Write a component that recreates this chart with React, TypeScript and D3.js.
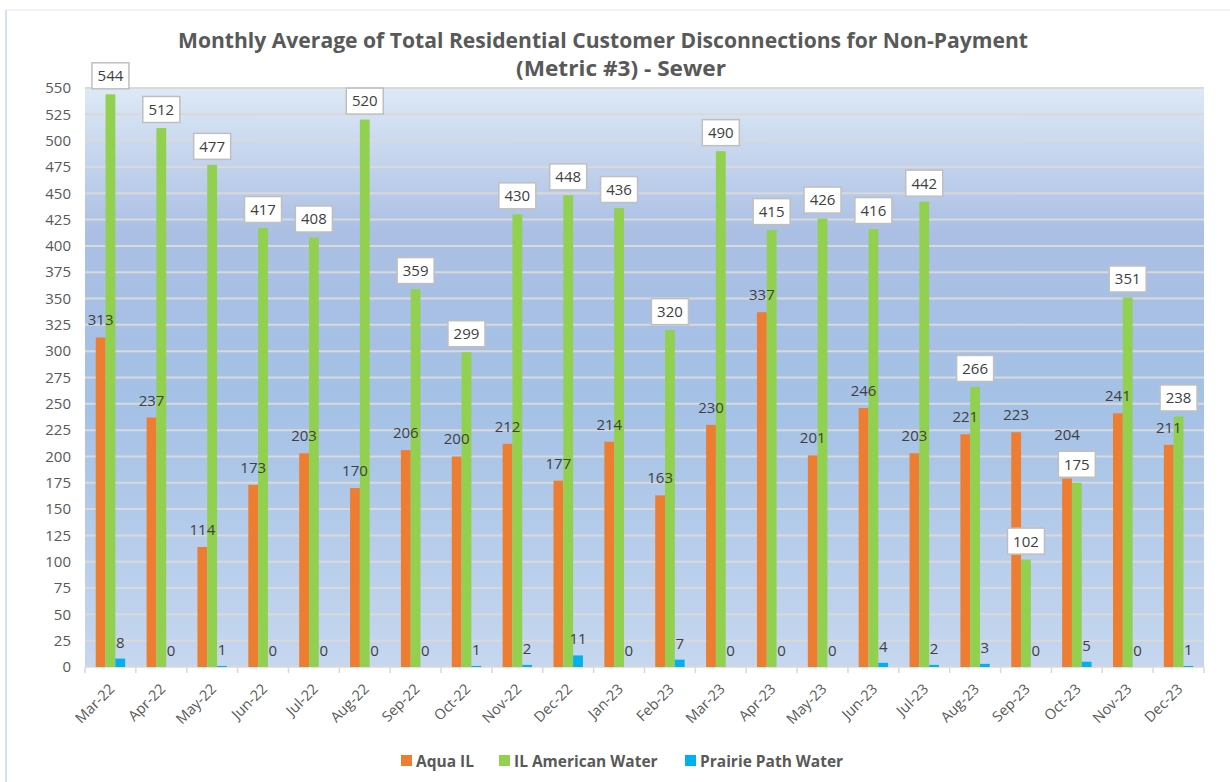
import * as d3 from "d3";

const MONTHS = [
  "Mar-22", "Apr-22", "May-22", "Jun-22", "Jul-22", "Aug-22", "Sep-22", "Oct-22",
  "Nov-22", "Dec-22", "Jan-23", "Feb-23", "Mar-23", "Apr-23", "May-23", "Jun-23",
  "Jul-23", "Aug-23", "Sep-23", "Oct-23", "Nov-23", "Dec-23",
];
const AQUA_IL = [313, 237, 114, 173, 203, 170, 206, 200, 212, 177, 214, 163, 230, 337, 201, 246, 203, 221, 223, 179, 241, 211];
// the Oct-23 label in the source reads 204 although the bar sits lower
const AQUA_LABEL_OVERRIDE: Record<string, number> = { "Oct-23": 204 };
const IL_AMERICAN = [544, 512, 477, 417, 408, 520, 359, 299, 430, 448, 436, 320, 490, 415, 426, 416, 442, 266, 102, 175, 351, 238];
const PRAIRIE_PATH = [8, 0, 1, 0, 0, 0, 0, 1, 2, 11, 0, 7, 0, 0, 0, 4, 2, 3, 0, 5, 0, 1];
const Y_TICKS = d3.range(0, 551, 25);

const SERIES = [
  { key: "aqua", label: "Aqua IL", color: "#ED7D31", values: AQUA_IL },
  { key: "ilaw", label: "IL American Water", color: "#92D050", values: IL_AMERICAN },
  { key: "ppw", label: "Prairie Path Water", color: "#00B0F0", values: PRAIRIE_PATH },
];

const FONT = "'Open Sans', 'Segoe UI', sans-serif";
const AXIS_COLOR = "#595959";
const LABEL_COLOR = "#404040";

export default function App() {
  const W = 1230;
  const H = 782;
  const plot = { left: 85, right: 1204, top: 88, bottom: 667 };

  const x = d3.scaleBand<string>().domain(MONTHS).range([plot.left, plot.right]);
  const groupW = 29.4;
  const x1 = d3.scaleBand<string>().domain(SERIES.map((s) => s.key)).range([0, groupW]);
  const y = d3.scaleLinear().domain([0, 550]).range([plot.bottom, plot.top]);
  const bw = x.bandwidth();
  const off = (m: string) => (x(m) as number) + (bw - groupW) / 2;

  const legendItems = [
    { s: SERIES[0], x: 401 },
    { s: SERIES[1], x: 499 },
    { s: SERIES[2], x: 685 },
  ];

  return (
    <svg
      width={W}
      height={H}
      style={{ position: "absolute", left: 0, top: 0, background: "#fff" }}
      fontFamily={FONT}
    >
      <defs>
        <linearGradient id="plotBg" x1="0" y1="0" x2="0" y2="1">
          <stop offset="0%" stopColor="#dde9f6" />
          <stop offset="25%" stopColor="#abbfe4" />
          <stop offset="55%" stopColor="#a4c1e6" />
          <stop offset="100%" stopColor="#c6d7ef" />
        </linearGradient>
      </defs>

      {/* chart frame */}
      <line x1={6} x2={W} y1={10} y2={10} stroke="#eef1f7" strokeWidth={1.5} />
      <line x1={6} x2={6} y1={10} y2={H} stroke="#c8d6ee" strokeWidth={1.5} />

      {/* title */}
      <text x={603} y={48} textAnchor="middle" fontSize={21} fontWeight={700} fill={AXIS_COLOR}
        textLength={850} lengthAdjust="spacingAndGlyphs">
        Monthly Average of Total  Residential Customer Disconnections for Non-Payment
      </text>
      <text x={621} y={76} textAnchor="middle" fontSize={21} fontWeight={700} fill={AXIS_COLOR}
        textLength={210} lengthAdjust="spacingAndGlyphs">
        (Metric #3) - Sewer
      </text>

      {/* plot area */}
      <rect x={plot.left} y={plot.top} width={plot.right - plot.left} height={plot.bottom - plot.top} fill="url(#plotBg)" />

      {/* gridlines */}
      {Y_TICKS.filter((t) => t > 0).map((t) => (
        <line key={t} x1={plot.left} x2={plot.right} y1={y(t)} y2={y(t)} stroke="#d9d9d9" strokeWidth={2} />
      ))}

      {/* y axis labels */}
      {Y_TICKS.map((t) => (
        <text key={t} x={71} y={y(t)} dy="0.35em" textAnchor="end" fontSize={15} fill={AXIS_COLOR}>
          {t}
        </text>
      ))}

      {/* x axis */}
      <line x1={plot.left} x2={plot.right} y1={plot.bottom} y2={plot.bottom} stroke="#d9d9d9" strokeWidth={1.5} />
      {MONTHS.concat(["end"]).map((m, i) => {
        const tx = plot.left + i * bw;
        return <line key={m} x1={tx} x2={tx} y1={plot.bottom} y2={plot.bottom + 6} stroke="#d9d9d9" strokeWidth={1.5} />;
      })}
      {MONTHS.map((m) => {
        const cx = (x(m) as number) + bw / 2;
        return (
          <text key={m} transform={`translate(${cx + 5},${plot.bottom + 23}) rotate(-45)`} textAnchor="end"
            fontSize={14.5} fill={AXIS_COLOR}>
            {m}
          </text>
        );
      })}

      {/* bars */}
      {SERIES.map((s) => (
        <g key={s.key}>
          {s.values.map((v, i) => {
            const m = MONTHS[i];
            if (v <= 0) return null;
            return (
              <rect key={m} x={off(m) + (x1(s.key) as number)} y={y(v)} width={x1.bandwidth()}
                height={plot.bottom - y(v)} fill={s.color} />
            );
          })}
        </g>
      ))}

      {/* Aqua IL labels */}
      {AQUA_IL.map((v, i) => {
        const m = MONTHS[i];
        const lv = AQUA_LABEL_OVERRIDE[m] ?? v;
        const cx = off(m) + (x1("aqua") as number) + x1.bandwidth() / 2;
        return (
          <text key={m} x={cx} y={y(lv) - 12} textAnchor="middle" fontSize={15} fill={LABEL_COLOR}>
            {lv}
          </text>
        );
      })}

      {/* Prairie Path labels */}
      {PRAIRIE_PATH.map((v, i) => {
        const m = MONTHS[i];
        const cx = off(m) + (x1("ppw") as number) + x1.bandwidth() / 2;
        return (
          <text key={m} x={cx} y={y(v) - 11} textAnchor="middle" fontSize={15} fill={LABEL_COLOR}>
            {v}
          </text>
        );
      })}

      {/* IL American Water boxed labels */}
      {IL_AMERICAN.map((v, i) => {
        const m = MONTHS[i];
        const cx = off(m) + (x1("ilaw") as number) + x1.bandwidth() / 2;
        const bwid = 37;
        const bh = 26;
        const top = y(v) - 5.5 - bh;
        return (
          <g key={m}>
            <rect x={cx - bwid / 2} y={top} width={bwid} height={bh} fill="#fff" stroke="#bfbfbf" strokeWidth={1.5} />
            <text x={cx} y={top + bh / 2} dy="0.36em" textAnchor="middle" fontSize={15} fill={LABEL_COLOR}>
              {v}
            </text>
          </g>
        );
      })}

      {/* legend */}
      {legendItems.map(({ s, x: lx }) => (
        <g key={s.key}>
          <rect x={lx} y={755} width={11} height={11} fill={s.color} />
          <text x={lx + 15} y={761} dy="0.36em" fontSize={15.5} fontWeight={700} fill={AXIS_COLOR}>
            {s.label}
          </text>
        </g>
      ))}
    </svg>
  );
}
